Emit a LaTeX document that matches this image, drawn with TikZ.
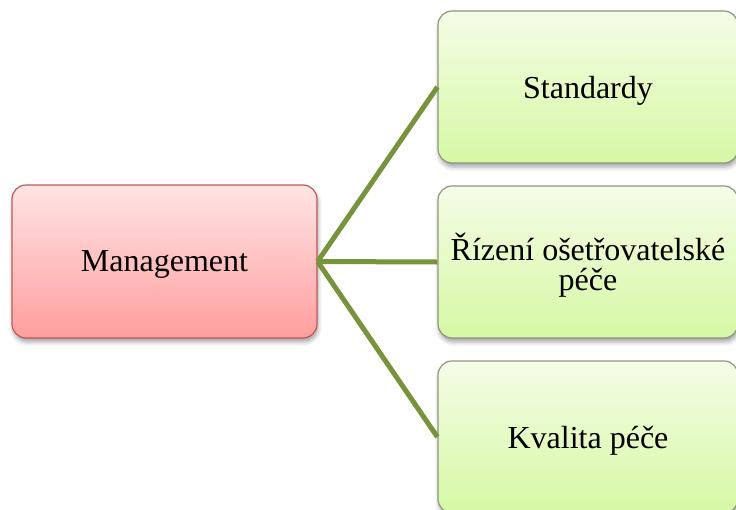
\documentclass[tikz,border=0pt]{standalone}
\usepackage{fontspec}
\setmainfont{Liberation Serif}
\usetikzlibrary{shadows.blur}
\definecolor{pinktop}{RGB}{255,228,228}
\definecolor{pinkbot}{RGB}{255,158,158}
\definecolor{pinkline}{RGB}{192,88,86}
\definecolor{greentop}{RGB}{244,253,230}
\definecolor{greenbot}{RGB}{214,248,164}
\definecolor{greenline}{RGB}{140,150,125}
\definecolor{conn}{RGB}{119,147,60}
\tikzset{
  boxbase/.style={rectangle, rounded corners=14pt, line width=1.2pt, align=center,
    font=\fontsize{32}{30}\selectfont, text depth=0pt,
    blur shadow={shadow xshift=1pt, shadow yshift=-4pt, shadow blur radius=4pt, shadow opacity=35}},
  pinkbox/.style={boxbase, draw=pinkline, top color=pinktop, bottom color=pinkbot,
    minimum width=305pt, minimum height=153pt},
  greenbox/.style={boxbase, draw=greenline, top color=greentop, bottom color=greenbot,
    minimum width=300pt, minimum height=152pt},
  connector/.style={draw=conn, line width=5pt}
}
\begin{document}
\begin{tikzpicture}[x=1pt,y=-1pt]
\useasboundingbox (0,0) rectangle (736,509);
\node[pinkbox] (m) at (164.5,261.5) {Management};
\node[greenbox] (s) at (588,87) {Standardy};
\node[greenbox] (r) at (588,262) {Řízení ošetřovatelské\\péče};
\node[greenbox] (k) at (588,437) {Kvalita péče};
\draw[connector] (m.east) -- (s.west);
\draw[connector] (m.east) -- (r.west);
\draw[connector] (m.east) -- (k.west);
\end{tikzpicture}
\end{document}
